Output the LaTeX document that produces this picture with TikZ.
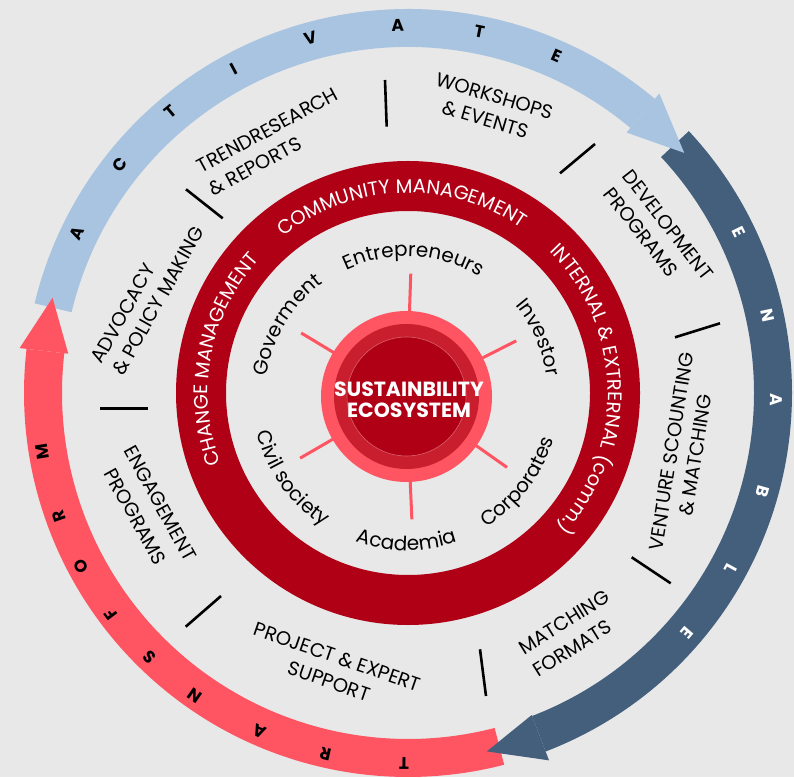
\documentclass[tikz,border=0pt]{standalone}
\usepackage{fontspec}
\setmainfont{Poppins}
\usetikzlibrary{decorations.text}
\definecolor{bg}{HTML}{E8E8E8}
\definecolor{lblue}{HTML}{A9C4E0}
\definecolor{dblue}{HTML}{435F7C}
\definecolor{lred}{HTML}{FF5462}
\definecolor{dred}{HTML}{B00016}
\definecolor{mred}{HTML}{C81E2D}
\newcommand\lblfont{\fontsize{19.5}{19.5}\selectfont}
\newcommand\ringfont{\fontsize{19.5}{19.5}\selectfont}
\newcommand\innerfont{\fontsize{20}{20}\selectfont}
\newcommand\bandfont{\bfseries\fontsize{17}{17}\selectfont}
\tikzset{
  lbl/.style={font=\lblfont, inner sep=0pt, text=black},
  bandletter/.style={font=\bandfont, inner sep=0pt},
  divider/.style={line width=2.6pt, black},
  spoke/.style={line width=3pt, lred},
}
\begin{document}
\begin{tikzpicture}[x=1pt,y=1pt]
\useasboundingbox (0,0) rectangle (794,777);
\fill[bg] (0,0) rectangle (794,777);

% ---------- outer bands ----------
\begin{scope}[shift={(408,384)}]
  \fill[lblue] (166.5:346) arc[start angle=166.5,end angle=50,radius=346]
     -- (50:384) arc[start angle=50,end angle=166.5,radius=384] -- cycle;
  \fill[dblue] (43:346) arc[start angle=43,end angle=-69,radius=346]
     -- (-69:384) arc[start angle=-69,end angle=43,radius=384] -- cycle;
  \fill[lred] (-75.5:346) arc[start angle=-75.5,end angle=-186.6,radius=346]
     -- (-186.6:384) arc[start angle=-186.6,end angle=-75.5,radius=384] -- cycle;
  % arrow heads
  \fill[lblue] (50:340) -- (50:391) -- (41:366) -- cycle;
  \fill[dblue] (-69:345) -- (-69:393.5) -- (-77.6:367) -- cycle;
  \fill[lred] (173.4:342) -- (173.4:391) -- (165:368) -- cycle;
  % band letters
  \foreach \a/\l [count=\i] in {154.2/A,141.6/C,130.1/T,118.2/I,105.4/V,91.6/A,78.8/T,66.2/E}
    \node[bandletter, text=black, rotate=\a-90] (act\i) at (\a:368) {\l};
  \foreach \a/\l [count=\i] in {26/E,12.1/N,-1.1/A,-15.6/B,-28.6/L,-40.6/E}
    \node[bandletter, text=white, rotate=\a-90] (ena\i) at (\a:368) {\l};
  \foreach \a/\l [count=\i] in {269.4/T,257.1/R,246.3/A,234.9/N,225.6/S,216.7/F,207.9/O,199.4/R,189.2/M}
    \node[bandletter, text=black, rotate=\a-90] (tra\i) at (\a:370) {\l};

  % ---------- red ring ----------
  \fill[dred, even odd rule] (0,0) circle[radius=232] (0,0) circle[radius=182];
  \path[decorate, decoration={text along path, text color=white, text align=center,
      text={|\ringfont|COMMUNITY MANAGEMENT}}]
      (142:200) arc[start angle=142,end angle=42,radius=200];
  \path[decorate, decoration={text along path, text color=white, text align=center,
      text={|\ringfont|INTERNAL {\&} EXTRERNAL (comm.)}}]
      (63.4:200) arc[start angle=63.4,end angle=-60.6,radius=200];
  \path[decorate, decoration={text along path, text color=white, text align=center,
      text={|\ringfont|CHANGE MANAGEMENT}}]
      (214.4:200) arc[start angle=214.4,end angle=124.4,radius=200];
\end{scope}

% ---------- dividers ----------
\draw[divider] (385,697) -- (386.7,650.3);
\draw[divider] (595,633) -- (560,603.7);
\draw[divider] (720,453.7) -- (675,439.7);
\draw[divider] (631.7,219.7) -- (670.7,193.7);
\draw[divider] (480,127.7) -- (486,81);
\draw[divider] (221,181) -- (185.7,150.3);
\draw[divider] (100,368.7) -- (148.3,368.7);
\draw[divider] (186,587.7) -- (222.7,558.7);

% ---------- middle labels ----------
\node[lbl, anchor=base west, rotate=28.4] (tr1) at (201.7,603.7) {TRENDRESEARCH};
\node[lbl, anchor=base west, rotate=28.4] (tr2) at (213.3,580.3) {\& REPORTS};
\node[lbl, anchor=base, rotate=-16.5] (ws1) at (492.5,674.5) {WORKSHOPS};
\node[lbl, anchor=base, rotate=-16.5] (ws2) at (483.3,651.2) {\& EVENTS};
\node[lbl, anchor=base west, rotate=-52] (dv1) at (621.6,600.5) {DEVELOPMENT};
\node[lbl, anchor=base west, rotate=-52] (dv2) at (602.7,583) {PROGRAMS};
\node[lbl, anchor=base, rotate=81] (vs1) at (678.1,324.3) {VENTURE SCOUNTING};
\node[lbl, anchor=base, rotate=81] (vs2) at (702.4,321) {\& MATCHING};
\node[lbl, anchor=base west, rotate=32] (mf1) at (524,121.7) {MATCHING};
\node[lbl, anchor=base west, rotate=32] (mf2) at (537.9,99.1) {FORMATS};
\node[lbl, anchor=base, rotate=-19] (pe1) at (335.2,113.6) {PROJECT \& EXPERT};
\node[lbl, anchor=base, rotate=-19] (pe2) at (326.9,89.2) {SUPPORT};
\node[lbl, anchor=base, rotate=-61] (en1) at (154.3,270.5) {ENGAGEMENT};
\node[lbl, anchor=base, rotate=-61] (en2) at (129.3,257.1) {PROGRAMS};
\node[lbl, anchor=base west, rotate=60.6] (ad1) at (101.7,412) {ADVOCACY};
\node[lbl, anchor=base west, rotate=60.6] (ad2) at (123.3,400.3) {\& POLICY MAKING};

% ---------- core ----------
\begin{scope}[shift={(406.5,380.5)}]
  \foreach \a [count=\i] in {88,26.9,-35.2,-87.5,210.1,148.9}
    \draw[spoke] (\a:80) -- (\a:123);
  \fill[lred] (0,0) circle[radius=85.5];
  \fill[mred] (0,0) circle[radius=72.5];
  \fill[dred] (0,0) circle[radius=59.5];
  \draw[line width=0.6pt, color=mred!70!white] (0,0) circle[radius=59.5];
  % inner labels, upper (clockwise)
  \path[decorate, decoration={text along path, text align=center,
      text={|\innerfont|Entrepreneurs}}]
      (142:140) arc[start angle=142,end angle=32,radius=140];
  \path[decorate, decoration={text along path, text align=center,
      text={|\innerfont|Investor}}]
      (69.1:142) arc[start angle=69.1,end angle=-20.9,radius=142];
  \path[decorate, decoration={text along path, text align=center,
      text={|\innerfont|Goverment}}]
      (194.2:141) arc[start angle=194.2,end angle=104.2,radius=141];
  % inner labels, lower (counter-clockwise)
  \path[decorate, decoration={text along path, text align=center,
      text={|\innerfont|Academia}}]
      (-140:154) arc[start angle=-140,end angle=-40,radius=154];
  \path[decorate, decoration={text along path, text align=center,
      text={|\innerfont|Corporates}}]
      (-92.5:153) arc[start angle=-92.5,end angle=17.5,radius=153];
  \path[decorate, decoration={text along path, text align=center,
      text={|\innerfont|Civil society}}]
      (160.4:154) arc[start angle=160.4,end angle=270.4,radius=154];
\end{scope}
\node[font=\bfseries\fontsize{20.5}{21}\selectfont, text=white, align=center, inner sep=0pt]
  (core) at (409,377) {SUSTAINBILITY\\ECOSYSTEM};
\end{tikzpicture}
\end{document}
